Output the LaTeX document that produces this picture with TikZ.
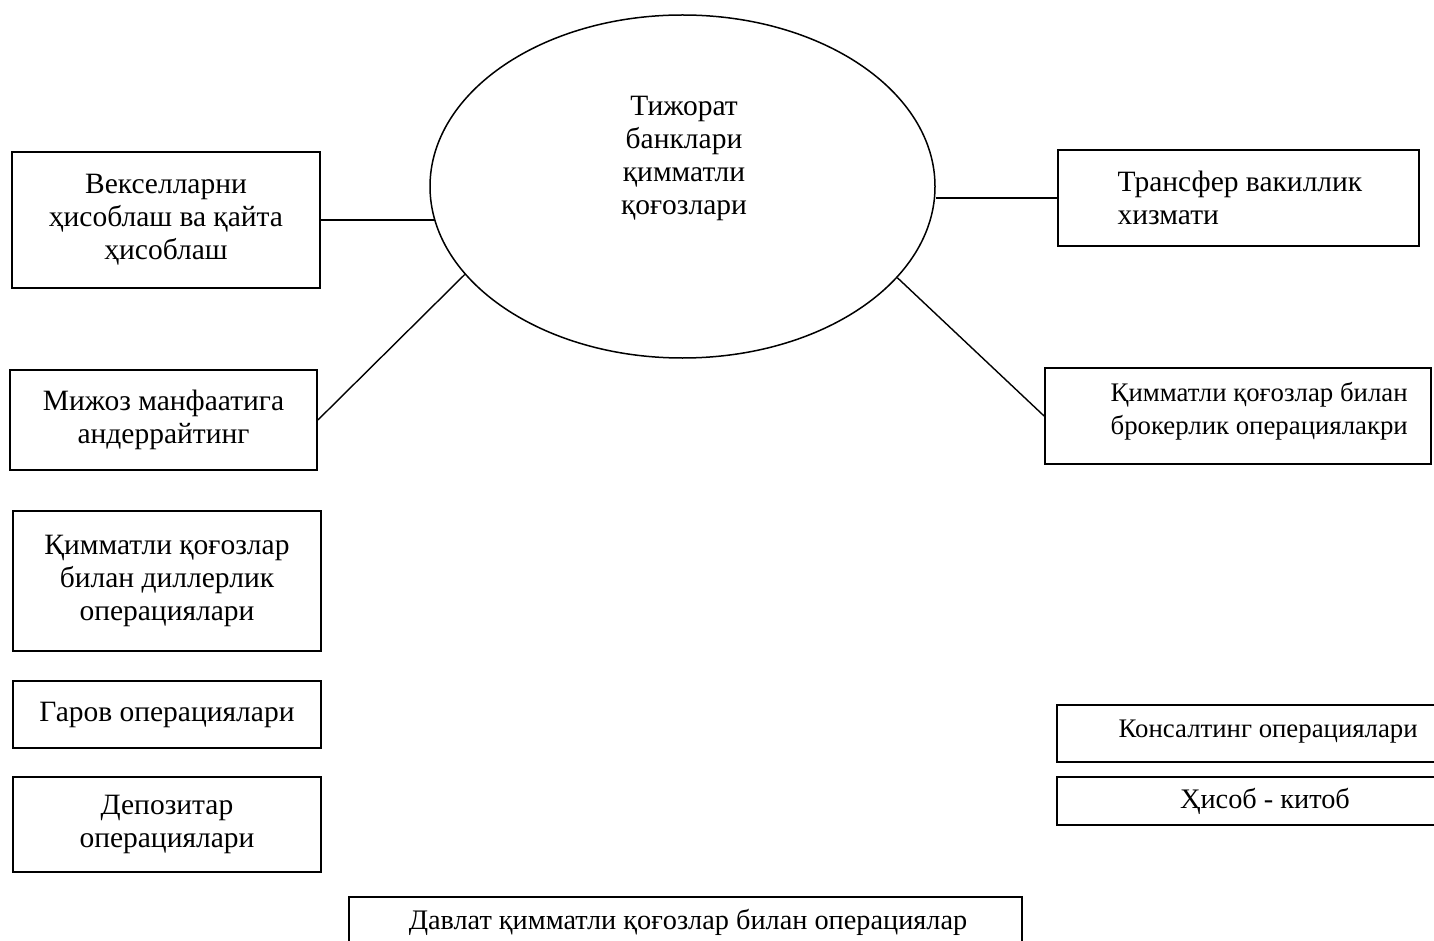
\documentclass[tikz,border=0pt]{standalone}
\usepackage{fontspec}
\setmainfont{Liberation Serif}
\usetikzlibrary{shapes.geometric}
\newcommand\dgfont{\fontsize{29.5}{33}\selectfont}
\newcommand\dgsmall{\fontsize{26.8}{33}\selectfont}
\newcommand\dgmid{\fontsize{28.3}{33}\selectfont}
\begin{document}
\begin{tikzpicture}[x=1pt,y=-1pt,line width=1.3pt,
  box/.style={draw,rectangle,line width=1.8pt,inner sep=0pt,align=center,font=\dgfont},
  ell/.style={draw,ellipse,line width=1.5pt,inner sep=0pt,minimum width=505pt,minimum height=343pt},
  txt/.style={inner sep=0pt,font=\dgfont},
  link/.style={line width=1.4pt}]
\path[use as bounding box] (0,0) rectangle (1434,941);
% centre ellipse
\node[ell] (e) at (682.5,186.5) {};
\node[txt,align=center] (et) at (684,158) {Тижорат\\банклари\\қимматли\\қоғозлари};
% left boxes
\node[box,minimum width=308pt,minimum height=136pt] (b1) at (166,220) {Векселларни\\ҳисоблаш ва қайта\\ҳисоблаш};
\node[box,minimum width=307pt,minimum height=100pt] (b2) at (163.5,420) {Мижоз манфаатига\\андеррайтинг};
\node[box,minimum width=308pt,minimum height=140pt] (b5) at (167,581) {Қимматли қоғозлар\\билан диллерлик\\операциялари};
\node[box,minimum width=308pt,minimum height=67pt] (b6) at (167,714.5) {Гаров операциялари};
\node[box,minimum width=308pt,minimum height=95pt] (b7) at (167,824.5) {Депозитар\\операциялари};
% right boxes
\node[box,minimum width=361pt,minimum height=96pt] (b3) at (1238.5,198) {};
\node[txt,align=left,anchor=west] (t3) at (1117,198) {Трансфер вакиллик\\хизмати};
\node[box,minimum width=386pt,minimum height=96pt] (b4) at (1238,416) {};
\node[txt,font=\dgsmall,align=left,anchor=west] (t4) at (1110,411) {Қимматли қоғозлар билан\\брокерлик операциялакри};
\node[box,minimum width=388pt,minimum height=57pt] (b9) at (1251,733.5) {};
\node[txt,font=\dgsmall,anchor=west] (t9) at (1118,732) {Консалтинг операциялари};
\node[box,minimum width=388pt,minimum height=48pt] (b10) at (1251,801) {};
\node[txt,font=\dgmid] (t10) at (1265,801) {Ҳисоб - китоб};
% bottom box
\node[box,minimum width=673pt,minimum height=103pt] (b8) at (685.5,948.5) {};
\node[txt,font=\dgmid] (t8) at (688,922) {Давлат қимматли қоғозлар билан операциялар};
% connectors
\draw[link] (b1.east) -- (b1.east -| e.188);
\draw[link] (b2.east) -- (e.202);
\draw[link] (b3.west) -- (b3.west -| e.east);
\draw[link] (e.337) -- (b4.west);
\end{tikzpicture}
\end{document}
